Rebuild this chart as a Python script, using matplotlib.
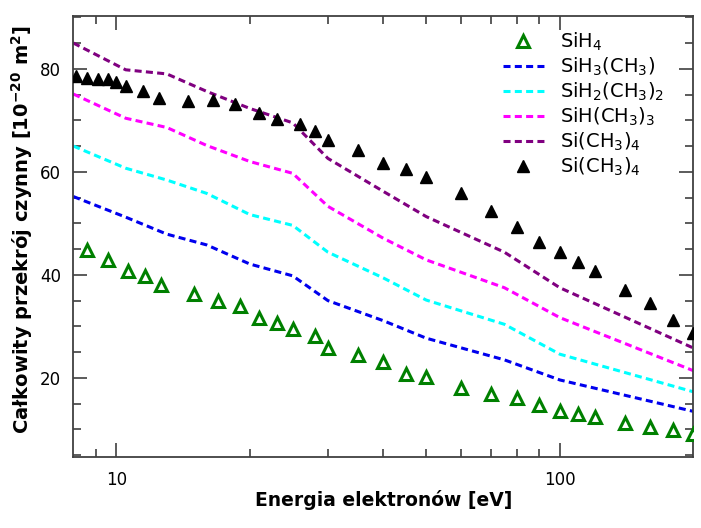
import matplotlib

matplotlib.use("Agg")
import matplotlib.pyplot as plt
from matplotlib.ticker import FixedLocator, NullFormatter, FixedFormatter

plt.rcParams["font.family"] = ["DejaVu Sans"]
plt.rcParams["mathtext.fontset"] = "dejavusans"

# SiH4 — pomiar (otwarte zielone trójkąty)
E_SIH4 = [8.6, 9.6, 10.6, 11.6, 12.6, 15, 17, 19, 21, 23, 25, 28, 30, 35, 40, 45,
          50, 60, 70, 80, 90, 100, 110, 120, 140, 160, 180, 200]
Q_SIH4 = [44.9, 42.9, 40.8, 39.7, 38.0, 36.3, 35.0, 34.0, 31.7, 30.6, 29.5, 28.2,
          25.8, 24.4, 23.0, 20.8, 20.1, 18.0, 16.9, 16.1, 14.8, 13.6, 12.9, 12.5,
          11.3, 10.4, 9.8, 9.1]

# Si(CH3)4 — pomiar (czarne trójkąty)
E_TMS = [8.1, 8.6, 9.1, 9.6, 10.0, 10.5, 11.5, 12.5, 14.5, 16.5, 18.5, 21, 23, 26,
         28, 30, 35, 40, 45, 50, 60, 70, 80, 90, 100, 110, 120, 140, 160, 180, 200]
Q_TMS = [78.5, 78.2, 78.0, 78.0, 77.5, 76.6, 75.7, 74.3, 73.8, 73.9, 73.2, 71.4,
         70.3, 69.2, 67.9, 66.2, 64.3, 61.7, 60.5, 58.9, 55.9, 52.3, 49.2, 46.3,
         44.4, 42.5, 40.8, 37.1, 34.6, 31.2, 28.7]

# krzywe (linie przerywane)
E_FIT = [8, 10.5, 13, 16, 20, 25, 30, 40, 50, 75, 100, 200]
Q_SIH3 = [55.2, 51.2, 47.9, 45.8, 42.1, 39.8, 35.0, 31.1, 27.7, 23.5, 19.6, 13.5]
Q_SIH2 = [65.0, 60.7, 58.4, 55.8, 51.7, 49.6, 44.4, 39.4, 35.1, 30.4, 24.6, 17.3]
Q_SIH1 = [75.1, 70.4, 68.6, 65.1, 62.0, 59.7, 53.3, 47.1, 42.9, 37.5, 31.7, 21.4]
Q_SI = [85.0, 79.8, 79.0, 75.6, 72.3, 69.5, 62.6, 56.2, 51.3, 44.4, 37.5, 25.8]

LINES = [
    (Q_SIH3, "#0000ee", r"SiH$_3$(CH$_3$)"),
    (Q_SIH2, "#00ffff", r"SiH$_2$(CH$_3$)$_2$"),
    (Q_SIH1, "#ff00ff", r"SiH(CH$_3$)$_3$"),
    (Q_SI, "#800080", r"Si(CH$_3$)$_4$"),
]

X_MAJOR = [10, 100]
X_MINOR = [9, 20, 30, 40, 50, 60, 70, 80, 90]
Y_MAJOR = [20, 40, 60, 80]
Y_MINOR = [5, 10, 15, 25, 30, 35, 45, 50, 55, 65, 70, 75, 85, 90]

AX_COL = "#404040"

fig = plt.figure(figsize=(7.01, 5.28), dpi=100)
ax = fig.add_axes([73.3 / 701, 1 - 456.7 / 528, 620 / 701, 441 / 528])

ax.plot(E_SIH4, Q_SIH4, ls="none", marker="^", ms=9, mfc="white", mec="#008000",
        mew=2.2, label=r"SiH$_4$", zorder=4)
for q, col, lab in LINES:
    ax.plot(E_FIT, q, color=col, lw=2.2, ls=(0, (2.3, 1.4)), label=lab, zorder=2)
ax.plot(E_TMS, Q_TMS, ls="none", marker="^", ms=9, color="black",
        label=r"Si(CH$_3$)$_4$", zorder=4)

ax.set_xscale("log")
ax.set_xlim(8, 200)
ax.set_ylim(4.7, 90.3)

ax.xaxis.set_major_locator(FixedLocator(X_MAJOR))
ax.xaxis.set_major_formatter(FixedFormatter([str(v) for v in X_MAJOR]))
ax.xaxis.set_minor_locator(FixedLocator(X_MINOR))
ax.xaxis.set_minor_formatter(NullFormatter())
ax.yaxis.set_major_locator(FixedLocator(Y_MAJOR))
ax.yaxis.set_minor_locator(FixedLocator(Y_MINOR))

ax.tick_params(which="both", direction="in", top=True, right=True, color=AX_COL,
               width=1.2, labelsize=12)
ax.tick_params(which="major", length=10)
ax.tick_params(which="minor", length=6)
ax.tick_params(axis="y", which="major", pad=9)
ax.tick_params(axis="x", which="major", pad=10)
for sp in ax.spines.values():
    sp.set_color(AX_COL)
    sp.set_linewidth(1.3)

ax.set_xlabel("Energia elektronów [eV]", fontsize=13.5, fontweight="bold", va="center")
ax.xaxis.set_label_coords(0.5, (456.7 - 500) / 441)
ax.set_ylabel(r"Całkowity przekrój czynny [10$^{\mathbf{-20}}$ m$^{\mathbf{2}}$]",
              fontsize=14, fontweight="bold", va="center")
ax.yaxis.set_label_coords((22 - 73.3) / 620, (456.7 - 230) / 441)

ax.legend(loc="upper left", bbox_to_anchor=(503 / 701, 1 - 31 / 528),
          bbox_transform=fig.transFigure, frameon=False, fontsize=14,
          borderpad=0, borderaxespad=0, handlelength=2.1, handletextpad=0.85,
          labelspacing=0.14)

fig.savefig("out.png", dpi=100)
